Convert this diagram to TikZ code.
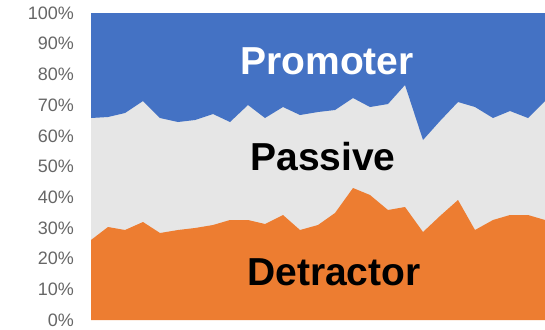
\documentclass[tikz,border=0pt]{standalone}
\usepackage{fontspec}
\setmainfont{Liberation Sans}
\definecolor{promo}{HTML}{4472C4}
\definecolor{passv}{HTML}{E6E6E6}
\definecolor{detr}{HTML}{ED7D31}
\definecolor{axgray}{HTML}{666666}
\begin{document}
\begin{tikzpicture}[x=1bp,y=-1bp,
  ticklab/.style={anchor=east,text=axgray,font=\fontsize{18bp}{20bp}\selectfont,inner sep=0pt},
  serieslab/.style={font=\fontsize{39bp}{42bp}\selectfont\bfseries,inner sep=0pt}]
\useasboundingbox (0,0) rectangle (545,329);
% passive (background)
\fill[passv] (91,13) rectangle (545,320);
% promoter
\fill[promo] (91,13) -- (91,118) -- (108,117) -- (125,113) -- (143,101) -- (160,118) -- (178,122) -- (195,120) -- (213,114) -- (230,122) -- (248,105) -- (265,118) -- (283,107) -- (300,115) -- (318,112) -- (335,110) -- (353,98) -- (370,107) -- (388,104) -- (405,85) -- (423,140) -- (440,121) -- (458,102) -- (475,107) -- (493,118) -- (510,111) -- (528,118) -- (545,101) -- (545,13) -- cycle;
% detractor
\fill[detr] (91,320) -- (91,240) -- (108,227) -- (125,230) -- (143,222) -- (160,233) -- (178,230) -- (195,228) -- (213,225) -- (230,220) -- (248,220) -- (265,224) -- (283,215) -- (300,230) -- (318,225) -- (335,213) -- (353,188) -- (370,195) -- (388,210) -- (405,207) -- (423,232) -- (440,216) -- (458,200) -- (475,230) -- (493,220) -- (510,215) -- (528,215) -- (545,220) -- (545,320) -- cycle;
% tick labels
\foreach \v [count=\i from 0] in {0,10,...,100} {
  \node[ticklab] (t\i) at (74,{320-3.07*\v}) {\v\%};
}
% series labels
\node[serieslab,text=white] (promoter) at (327,61) {Promoter};
\node[serieslab,text=black] (passive) at (323,157) {Passive};
\node[serieslab,text=black] (detractor) at (334,272) {Detractor};
\end{tikzpicture}
\end{document}
